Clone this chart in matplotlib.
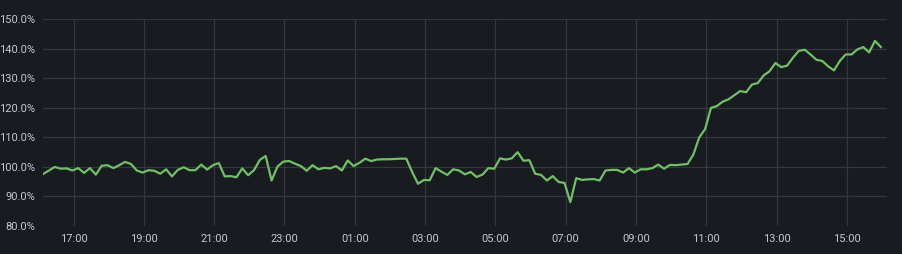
import matplotlib
matplotlib.use("Agg")
import matplotlib.pyplot as plt
import matplotlib.dates as mdates
from matplotlib.ticker import FuncFormatter, MultipleLocator
import pandas as pd

start_time = "2023-01-01 16:08"
interval = "10min"
values = [
    97.6, 98.8, 100.0, 99.4, 99.5, 98.8, 99.6, 98.0, 99.6, 97.4,
    100.4, 100.6, 99.6, 100.6, 101.7, 101.0, 98.8, 98.1, 98.9, 98.7,
    97.7, 99.2, 96.8, 99.0, 99.9, 98.9, 98.9, 100.8, 99.1, 100.6,
    101.3, 96.8, 96.9, 96.5, 99.5, 97.2, 98.9, 102.4, 103.7, 95.4,
    100.1, 101.8, 102.0, 101.1, 100.3, 98.7, 100.6, 99.2, 99.7, 99.5,
    100.3, 98.8, 102.2, 100.3, 101.4, 102.8, 102.0, 102.5, 102.6, 102.6,
    102.7, 102.8, 102.8, 98.3, 94.3, 95.6, 95.5, 99.6, 98.4, 97.3,
    99.2, 98.8, 97.5, 98.3, 96.6, 97.4, 99.6, 99.4, 102.9, 102.5,
    102.9, 105.0, 102.1, 102.3, 97.7, 97.3, 95.4, 96.9, 94.9, 94.6,
    88.1, 96.2, 95.6, 95.8, 95.9, 95.4, 98.8, 99.0, 99.0, 98.1,
    99.6, 98.1, 99.2, 99.2, 99.6, 100.8, 99.4, 100.7, 100.6, 100.8,
    101.0, 104.2, 110.0, 112.8, 120.0, 120.6, 122.1, 122.9, 124.3, 125.7,
    125.3, 127.9, 128.4, 131.0, 132.4, 135.2, 133.8, 134.3, 137.0, 139.3,
    139.7, 138.1, 136.3, 135.9, 134.1, 132.7, 135.9, 138.1, 138.1, 139.8,
    140.6, 138.8, 142.7, 140.6,
]
times = pd.date_range(start=start_time, periods=len(values), freq=interval)
y_min, y_max, y_step = 80, 150, 10

bg = "#181b1f"
W, H = 902, 254
fig = plt.figure(figsize=(W / 100, H / 100), dpi=100, facecolor=bg)
ax = fig.add_axes([42.5 / W, (H - 226) / H, (886.7 - 42.5) / W, (226 - 19.3) / H])
ax.set_facecolor(bg)

ax.plot(times, values, color="#73bf69", lw=1.6, solid_joinstyle="round")

t0 = pd.Timestamp(start_time)
ax.set_xlim(t0 - pd.Timedelta(minutes=1), t0 + pd.Timedelta(hours=24))
ax.set_ylim(y_min, y_max)
ax.yaxis.set_major_locator(MultipleLocator(y_step))
ax.yaxis.set_major_formatter(FuncFormatter(lambda v, p: f"{v:.1f}%"))
ax.xaxis.set_major_locator(mdates.HourLocator(byhour=range(1, 24, 2)))
ax.xaxis.set_major_formatter(mdates.DateFormatter("%H:%M"))

for s in ax.spines.values():
    s.set_visible(False)
ax.grid(True, color="#34373c", lw=0.9)
ax.set_axisbelow(True)
ax.tick_params(length=0, colors="#c7c8d0", labelsize=8, pad=5)
for lab in ax.get_xticklabels() + ax.get_yticklabels():
    lab.set_family(["Roboto", "DejaVu Sans"])
ax.tick_params(axis="x", pad=6)

fig.savefig("out.png", dpi=100, facecolor=bg)
